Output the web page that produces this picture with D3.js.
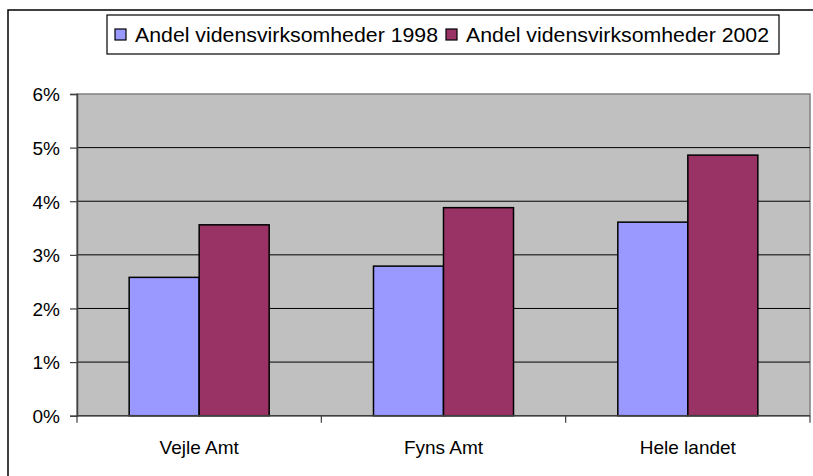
<!DOCTYPE html>
<html>
<head>
<meta charset="utf-8">
<script src="https://cdn.jsdelivr.net/npm/d3@7"></script>
<style>
  body { margin: 0; background: #fff; }
  text { font-family: Arial, "Liberation Sans", sans-serif; fill: #000; }
</style>
</head>
<body>
<svg id="chart" width="813" height="476"></svg>
<script>
// data
let categories = ['Vejle Amt', 'Fyns Amt', 'Hele landet']
let seriesNames = ['Andel vidensvirksomheder 1998', 'Andel vidensvirksomheder 2002']
let values1998 = [0.0258, 0.0279, 0.0361]
let values2002 = [0.0356, 0.0388, 0.0486]
let yTicks = [0, 0.01, 0.02, 0.03, 0.04, 0.05, 0.06]
let seriesColors = ['#9999FF', '#993366']

let svg = d3.select('#chart')

// outer chart frame (runs off the right / bottom)
svg.append('path')
  .attr('d', 'M8,480 V10 H820')
  .attr('fill', 'none')
  .attr('stroke', '#000')
  .attr('stroke-width', 1.5)

let plot = { left: 77, right: 810, top: 94, bottom: 415.7 }

let x = d3.scaleBand()
  .domain(categories)
  .range([plot.left, plot.right])

let xInner = d3.scaleBand()
  .domain(seriesNames)
  .range([0, x.bandwidth()])
  .paddingInner(0)
  .paddingOuter(0.745)

let y = d3.scaleLinear()
  .domain([0, 0.06])
  .range([plot.bottom, plot.top])

// plot background
svg.append('rect')
  .attr('x', plot.left)
  .attr('y', plot.top)
  .attr('width', plot.right - plot.left)
  .attr('height', plot.bottom - plot.top)
  .attr('fill', '#C0C0C0')
  .attr('stroke', '#808080')
  .attr('stroke-width', 1.5)

// gridlines
svg.append('g')
  .selectAll('line')
  .data(yTicks.filter(t => t > 0 && t < 0.06))
  .enter()
  .append('line')
  .attr('x1', plot.left)
  .attr('x2', plot.right)
  .attr('y1', d => y(d))
  .attr('y2', d => y(d))
  .attr('stroke', '#000')
  .attr('stroke-width', 1)

// bars
let rows = categories.map((c, i) => ({ cat: c, vals: [values1998[i], values2002[i]] }))

let groups = svg.append('g')
  .selectAll('.grp')
  .data(rows)
  .enter()
  .append('g')
  .attr('class', 'grp')
  .attr('transform', d => `translate(${x(d.cat)},0)`)

groups.selectAll('rect')
  .data(d => d.vals.map((v, k) => ({ name: seriesNames[k], value: v, k: k })))
  .enter()
  .append('rect')
  .attr('x', d => xInner(d.name))
  .attr('y', d => y(d.value))
  .attr('width', xInner.bandwidth())
  .attr('height', d => y(0) - y(d.value))
  .attr('fill', d => seriesColors[d.k])
  .attr('stroke', '#000')
  .attr('stroke-width', 1.5)

// y axis
let yAxis = d3.axisLeft(y)
  .tickValues(yTicks)
  .tickFormat(d3.format('.0%'))
  .tickSize(7)
  .tickPadding(10)

let yg = svg.append('g')
  .attr('transform', `translate(${plot.left},0)`)
  .call(yAxis)
yg.select('.domain').attr('stroke', '#404040').attr('stroke-width', 1.5)
yg.selectAll('.tick line').attr('stroke', '#404040').attr('stroke-width', 1.2)
yg.selectAll('.tick text')
  .style('font-size', '19px')
  .attr('dy', '0.36em')

// x axis: baseline plus category boundary ticks
svg.append('line')
  .attr('x1', plot.left)
  .attr('x2', plot.right)
  .attr('y1', y(0))
  .attr('y2', y(0))
  .attr('stroke', '#404040')
  .attr('stroke-width', 1.5)

let boundaries = categories.map(c => x(c)).concat([x(categories[categories.length - 1]) + x.bandwidth()])
svg.append('g')
  .selectAll('line')
  .data(boundaries)
  .enter()
  .append('line')
  .attr('x1', d => d)
  .attr('x2', d => d)
  .attr('y1', y(0))
  .attr('y2', y(0) + 7)
  .attr('stroke', '#404040')
  .attr('stroke-width', 1.2)

svg.append('g')
  .selectAll('text')
  .data(categories)
  .enter()
  .append('text')
  .attr('x', d => x(d) + x.bandwidth() / 2)
  .attr('y', 453.5)
  .attr('text-anchor', 'middle')
  .style('font-size', '19px')
  .text(d => d)

// legend
let legend = svg.append('g').attr('id', 'legend')
legend.append('rect')
  .attr('x', 107)
  .attr('y', 15)
  .attr('width', 672)
  .attr('height', 39)
  .attr('fill', '#fff')
  .attr('stroke', '#000')
  .attr('stroke-width', 1.2)

let textW = 303
let itemX = [115, 115 + 20 + textW + 8]
let items = legend.selectAll('.item')
  .data(seriesNames)
  .enter()
  .append('g')
  .attr('class', 'item')
  .attr('transform', (d, i) => `translate(${itemX[i]},0)`)

items.append('rect')
  .attr('x', 0)
  .attr('y', 29)
  .attr('width', 11)
  .attr('height', 11)
  .attr('fill', (d, i) => seriesColors[i])
  .attr('stroke', '#000')
  .attr('stroke-width', 1.2)

items.append('text')
  .attr('x', 20)
  .attr('y', 41.5)
  .attr('textLength', textW)
  .attr('lengthAdjust', 'spacingAndGlyphs')
  .style('font-size', '20px')
  .text(d => d)
</script>
</body>
</html>
